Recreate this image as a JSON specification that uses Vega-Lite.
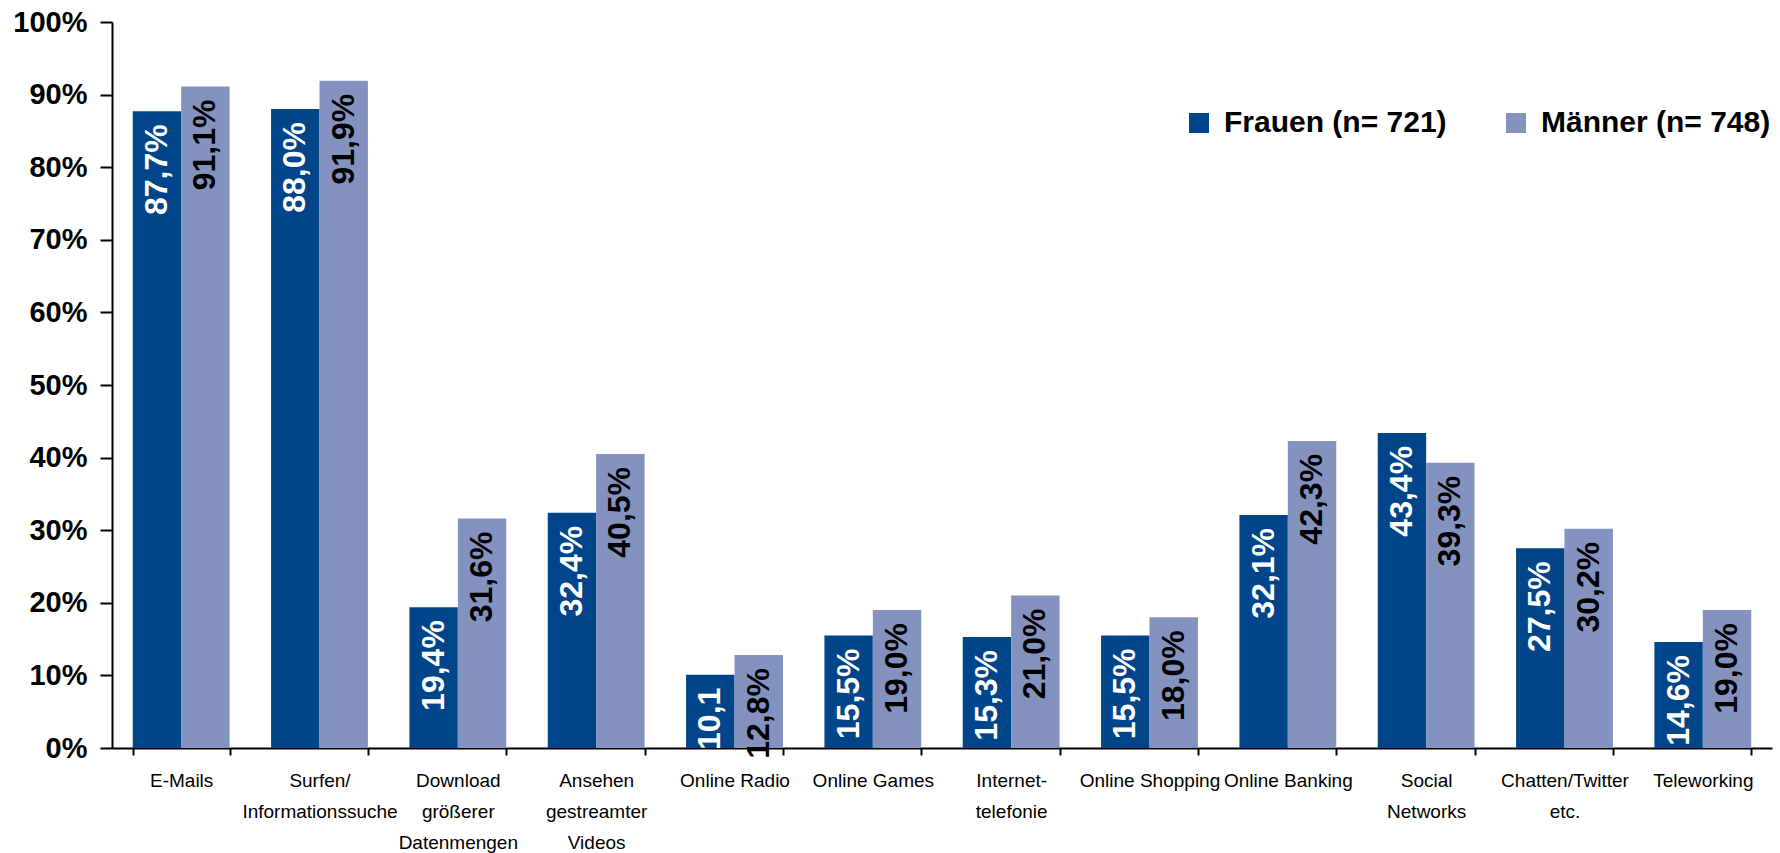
{
  "$schema": "https://vega.github.io/schema/vega-lite/v6.json",
  "width": 1660,
  "height": 726,
  "autosize": {"type": "none"},
  "padding": {"left": 112, "top": 22, "right": 8, "bottom": 105},
  "background": "white",
  "config": {"view": {"stroke": null}, "font": "Liberation Sans"},
  "data": {
    "values": [
      {"kategorie": "E-Mails", "gruppe": "Frauen (n= 721)", "wert": 0.877, "label": "87,7%"},
      {"kategorie": "E-Mails", "gruppe": "Männer (n= 748)", "wert": 0.911, "label": "91,1%"},
      {"kategorie": "Surfen/|Informationssuche", "gruppe": "Frauen (n= 721)", "wert": 0.880, "label": "88,0%"},
      {"kategorie": "Surfen/|Informationssuche", "gruppe": "Männer (n= 748)", "wert": 0.919, "label": "91,9%"},
      {"kategorie": "Download|größerer|Datenmengen", "gruppe": "Frauen (n= 721)", "wert": 0.194, "label": "19,4%"},
      {"kategorie": "Download|größerer|Datenmengen", "gruppe": "Männer (n= 748)", "wert": 0.316, "label": "31,6%"},
      {"kategorie": "Ansehen|gestreamter|Videos", "gruppe": "Frauen (n= 721)", "wert": 0.324, "label": "32,4%"},
      {"kategorie": "Ansehen|gestreamter|Videos", "gruppe": "Männer (n= 748)", "wert": 0.405, "label": "40,5%"},
      {"kategorie": "Online Radio", "gruppe": "Frauen (n= 721)", "wert": 0.101, "label": "10,1"},
      {"kategorie": "Online Radio", "gruppe": "Männer (n= 748)", "wert": 0.128, "label": "12,8%"},
      {"kategorie": "Online Games", "gruppe": "Frauen (n= 721)", "wert": 0.155, "label": "15,5%"},
      {"kategorie": "Online Games", "gruppe": "Männer (n= 748)", "wert": 0.190, "label": "19,0%"},
      {"kategorie": "Internet-|telefonie", "gruppe": "Frauen (n= 721)", "wert": 0.153, "label": "15,3%"},
      {"kategorie": "Internet-|telefonie", "gruppe": "Männer (n= 748)", "wert": 0.210, "label": "21,0%"},
      {"kategorie": "Online Shopping", "gruppe": "Frauen (n= 721)", "wert": 0.155, "label": "15,5%"},
      {"kategorie": "Online Shopping", "gruppe": "Männer (n= 748)", "wert": 0.180, "label": "18,0%"},
      {"kategorie": "Online Banking", "gruppe": "Frauen (n= 721)", "wert": 0.321, "label": "32,1%"},
      {"kategorie": "Online Banking", "gruppe": "Männer (n= 748)", "wert": 0.423, "label": "42,3%"},
      {"kategorie": "Social|Networks", "gruppe": "Frauen (n= 721)", "wert": 0.434, "label": "43,4%"},
      {"kategorie": "Social|Networks", "gruppe": "Männer (n= 748)", "wert": 0.393, "label": "39,3%"},
      {"kategorie": "Chatten/Twitter|etc.", "gruppe": "Frauen (n= 721)", "wert": 0.275, "label": "27,5%"},
      {"kategorie": "Chatten/Twitter|etc.", "gruppe": "Männer (n= 748)", "wert": 0.302, "label": "30,2%"},
      {"kategorie": "Teleworking", "gruppe": "Frauen (n= 721)", "wert": 0.146, "label": "14,6%"},
      {"kategorie": "Teleworking", "gruppe": "Männer (n= 748)", "wert": 0.190, "label": "19,0%"}
    ]
  },
  "encoding": {
    "x": {
      "field": "kategorie",
      "type": "nominal",
      "sort": null,
      "scale": {"paddingInner": 0.3, "paddingOuter": 0.15},
      "axis": {
        "title": null,
        "labelAngle": 0,
        "labelExpr": "split(datum.label, '|')",
        "labelFontSize": 19,
        "labelLineHeight": 31,
        "labelColor": "black",
        "labelPadding": 16,
        "labelBaseline": "top",
        "labelLimit": 0,
        "labelOverlap": false,
        "labelBound": false,
        "tickBand": "extent",
        "tickSize": 7,
        "tickWidth": 2,
        "tickColor": "black",
        "domainColor": "black",
        "domainWidth": 2,
        "grid": false
      }
    },
    "xOffset": {
      "field": "gruppe",
      "type": "nominal",
      "sort": ["Frauen (n= 721)", "Männer (n= 748)"]
    },
    "y": {
      "field": "wert",
      "type": "quantitative",
      "scale": {"domain": [0, 1], "nice": false},
      "axis": {
        "title": null,
        "format": ".0%",
        "values": [0, 0.1, 0.2, 0.3, 0.4, 0.5, 0.6, 0.7, 0.8, 0.9, 1],
        "labelFontSize": 29,
        "labelFontWeight": "bold",
        "labelColor": "black",
        "labelPadding": 13,
        "tickSize": 12,
        "tickWidth": 2,
        "tickColor": "black",
        "domainColor": "black",
        "domainWidth": 2,
        "grid": false
      }
    }
  },
  "layer": [
    {
      "mark": {"type": "bar", "strokeWidth": 0},
      "encoding": {
        "color": {
          "field": "gruppe",
          "type": "nominal",
          "sort": ["Frauen (n= 721)", "Männer (n= 748)"],
          "scale": {"range": ["#00458A", "#8492C0"]},
          "legend": {
            "orient": "none",
            "legendX": 1072,
            "legendY": 86,
            "direction": "horizontal",
            "title": null,
            "symbolType": "square",
            "symbolSize": 400,
            "symbolStrokeWidth": 0,
            "symbolOpacity": 1,
            "labelFontSize": 30,
            "labelFontWeight": "bold",
            "labelColor": "black",
            "labelOffset": 10,
            "columnPadding": 54,
            "padding": 0,
            "labelLimit": 0
          }
        }
      }
    },
    {
      "mark": {
        "type": "text",
        "angle": 270,
        "align": "right",
        "baseline": "middle",
        "dx": -13,
        "fontSize": 32,
        "fontWeight": "bold"
      },
      "encoding": {
        "text": {"field": "label"},
        "color": {
          "condition": {"test": "datum.gruppe === 'Frauen (n= 721)'", "value": "white"},
          "value": "black"
        }
      }
    }
  ]
}
